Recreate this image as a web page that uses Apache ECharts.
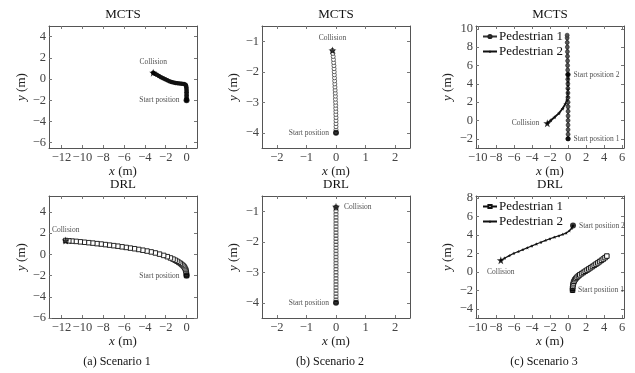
<!DOCTYPE html>
<html>
<head>
<meta charset="utf-8">
<script src="https://cdn.jsdelivr.net/npm/echarts@6/dist/echarts.min.js"></script>
<style>
  html, body { margin: 0; padding: 0; background: #fff; }
  #chart { width: 635px; height: 373px; }
</style>
</head>
<body>
<div id="chart"></div>
<script>
const FONT = 'Liberation Serif'

// trajectories [x, y] in metres
const s1Mcts = [[0,-2.0],[0,-1.85],[0,-1.7],[0,-1.55],[0,-1.4],[0,-1.25],[0,-1.1],[-0.01,-0.95],[-0.02,-0.8],[-0.04,-0.65],[-0.1,-0.53],[-0.25,-0.47],[-0.45,-0.44],[-0.65,-0.42],[-0.85,-0.4],[-1.05,-0.37],[-1.25,-0.33],[-1.45,-0.27],[-1.65,-0.2],[-1.85,-0.12],[-2.05,-0.03],[-2.25,0.07],[-2.45,0.18],[-2.65,0.29],[-2.85,0.4],[-3.05,0.51],[-3.2,0.6]]
const s1Drl = [[0,-2.0],[-0.01,-1.85],[-0.03,-1.7],[-0.06,-1.55],[-0.1,-1.42],[-0.17,-1.28],[-0.25,-1.16],[-0.35,-1.05],[-0.47,-0.95],[-0.6,-0.85],[-0.75,-0.75],[-0.92,-0.65],[-1.1,-0.55],[-1.3,-0.45],[-1.55,-0.34],[-1.85,-0.22],[-2.2,-0.1],[-2.6,0.02],[-3.0,0.13],[-3.4,0.23],[-3.8,0.31],[-4.2,0.39],[-4.6,0.46],[-5.0,0.53],[-5.4,0.59],[-5.8,0.65],[-6.2,0.71],[-6.6,0.77],[-7.0,0.82],[-7.4,0.87],[-7.8,0.92],[-8.2,0.97],[-8.6,1.01],[-9.0,1.06],[-9.4,1.1],[-9.8,1.14],[-10.2,1.18],[-10.6,1.22],[-11.0,1.25],[-11.3,1.27],[-11.6,1.3]]
const s2Mcts = [[0,-4.0],[0,-3.9],[0,-3.8],[0,-3.7],[0,-3.6],[0,-3.5],[-0.005,-3.4],[-0.005,-3.3],[-0.01,-3.2],[-0.01,-3.1],[-0.015,-3.0],[-0.02,-2.9],[-0.02,-2.8],[-0.025,-2.7],[-0.03,-2.6],[-0.035,-2.5],[-0.04,-2.4],[-0.045,-2.3],[-0.05,-2.2],[-0.055,-2.1],[-0.06,-2.0],[-0.065,-1.9],[-0.07,-1.8],[-0.08,-1.7],[-0.085,-1.6],[-0.095,-1.5],[-0.105,-1.4],[-0.12,-1.3]]
const s2Drl = [[0,-4.0],[0,-3.9],[0,-3.8],[0,-3.7],[0,-3.6],[0,-3.5],[0,-3.4],[0,-3.3],[0,-3.2],[0,-3.1],[0,-3.0],[0,-2.9],[0,-2.8],[0,-2.7],[0,-2.6],[0,-2.5],[0,-2.4],[0,-2.3],[0,-2.2],[0,-2.1],[0,-2.0],[0,-1.9],[0,-1.8],[0,-1.7],[0,-1.6],[0,-1.5],[0,-1.4],[0,-1.3],[0,-1.2],[0,-1.1],[0,-1.0],[0,-0.9],[0,-0.85]]
const s3MctsPed1 = [[0,-2],[0,-1.5],[0,-1],[0,-0.5],[0,0],[0,0.5],[0,1],[0,1.5],[0,2],[-0.01,2.5],[-0.01,3],[-0.02,3.5],[-0.02,4],[-0.03,4.5],[-0.03,5],[-0.04,5.5],[-0.05,6],[-0.05,6.5],[-0.06,7],[-0.07,7.5],[-0.08,8],[-0.09,8.5],[-0.1,9],[-0.1,9.3]]
const s3MctsPed2 = [[0,5],[0,4.6],[0,4.2],[0,3.8],[-0.01,3.4],[-0.03,3.0],[-0.06,2.6],[-0.12,2.2],[-0.3,1.8],[-0.6,1.3],[-1.0,0.8],[-1.5,0.35],[-1.9,0.02],[-2.3,-0.3]]
const s3DrlPed1 = [[0.5,-2.0],[0.5,-1.8],[0.52,-1.6],[0.55,-1.4],[0.6,-1.2],[0.67,-1.02],[0.76,-0.86],[0.87,-0.72],[1.0,-0.58],[1.15,-0.45],[1.3,-0.33],[1.5,-0.2],[1.7,-0.07],[1.9,0.06],[2.1,0.18],[2.3,0.31],[2.5,0.44],[2.7,0.57],[2.9,0.7],[3.1,0.83],[3.3,0.96],[3.5,1.1],[3.7,1.24],[3.9,1.38],[4.1,1.53],[4.3,1.7]]
const s3DrlPed2 = [[0.55,5.0],[0.4,4.7],[0.15,4.45],[-0.2,4.2],[-0.6,4.05],[-1.0,3.9],[-1.5,3.75],[-2.0,3.58],[-2.5,3.4],[-3.0,3.2],[-3.5,3.0],[-4.0,2.8],[-4.5,2.6],[-5.0,2.4],[-5.5,2.2],[-6.0,2.0],[-6.5,1.75],[-7.0,1.5],[-7.45,1.25]]

// marked points
const s1MctsStart = [0, -2], s1MctsCollision = [-3.2, 0.6]
const s1DrlStart = [0, -2], s1DrlCollision = [-11.6, 1.3]
const s2MctsStart = [0, -4], s2MctsCollision = [-0.12, -1.3]
const s2DrlStart = [0, -4], s2DrlCollision = [0, -0.85]
const s3MctsStart1 = [0, -2], s3MctsStart2 = [0, 5], s3MctsCollision = [-2.3, -0.3]
const s3DrlStart1 = [0.5, -2], s3DrlStart2 = [0.55, 5], s3DrlCollision = [-7.45, 1.25]

// axes
const s1XTicks = [-12, -10, -8, -6, -4, -2, 0]
const s1YTicks = [-6, -4, -2, 0, 2, 4]
const s2XTicks = [-2, -1, 0, 1, 2]
const s2YTicks = [-4, -3, -2, -1]
const s3XTicks = [-10, -8, -6, -4, -2, 0, 2, 4, 6]
const s3MctsYTicks = [-2, 0, 2, 4, 6, 8, 10]
const s3DrlYTicks = [-4, -2, 0, 2, 4, 6, 8]

const titles = ['MCTS', 'DRL']
const captions = ['(a) Scenario 1', '(b) Scenario 2', '(c) Scenario 3']

const panels = [
  { left: 49, top: 26, x: [-13.2, 1], y: [-6.5, 5], xt: s1XTicks, yt: s1YTicks, yGap: 21 },
  { left: 262, top: 26, x: [-2.5, 2.5], y: [-4.5, -0.5], xt: s2XTicks, yt: s2YTicks, yGap: 22 },
  { left: 476, top: 26, x: [-10.2, 6.2], y: [-3, 10.3], xt: s3XTicks, yt: s3MctsYTicks, yGap: 22 },
  { left: 49, top: 196, x: [-13.2, 1], y: [-6, 5.5], xt: s1XTicks, yt: s1YTicks, yGap: 21 },
  { left: 262, top: 196, x: [-2.5, 2.5], y: [-4.5, -0.5], xt: s2XTicks, yt: s2YTicks, yGap: 22 },
  { left: 476, top: 196, x: [-10.2, 6.2], y: [-5, 8.2], xt: s3XTicks, yt: s3DrlYTicks, yGap: 22 },
]

const STAR = 'path://M0,-10L2.35,-3.24L9.51,-3.09L3.8,1.24L5.88,8.09L0,4L-5.88,8.09L-3.8,1.24L-9.51,-3.09L-2.35,-3.24Z'
const minus = (v) => (v < 0 ? '\u2212' + Math.abs(v) : String(v))
const frame = { onZero: false, lineStyle: { color: '#555', width: 1 } }
const tickStyle = (vals) => ({ show: true, inside: true, length: 3, customValues: vals, lineStyle: { color: '#777' } })
const nameStyle = {
  fontFamily: FONT, fontSize: 13, color: '#222',
  rich: { i: { fontFamily: FONT, fontSize: 13, fontStyle: 'italic', color: '#222' } },
}
const tickLabel = (vals) => ({ show: true, customValues: vals, margin: 3, formatter: minus, fontFamily: FONT, fontSize: 12.5, color: '#444' })

const grid = [], xAxis = [], yAxis = []
panels.forEach((p, g) => {
  grid.push({ left: p.left, top: p.top, width: 148, height: 122 })
  xAxis.push({
    type: 'value', gridIndex: g, position: 'bottom', min: p.x[0], max: p.x[1],
    axisLine: frame, axisTick: tickStyle(p.xt), axisLabel: tickLabel(p.xt), splitLine: { show: false },
    name: '{i|x} (m)', nameLocation: 'middle', nameGap: 17, nameTextStyle: nameStyle,
  })
  xAxis.push({
    type: 'value', gridIndex: g, position: 'top', min: p.x[0], max: p.x[1],
    axisLine: frame, axisTick: tickStyle(p.xt), axisLabel: { show: false }, splitLine: { show: false },
  })
  yAxis.push({
    type: 'value', gridIndex: g, position: 'left', min: p.y[0], max: p.y[1],
    axisLine: frame, axisTick: tickStyle(p.yt), axisLabel: tickLabel(p.yt), splitLine: { show: false },
    name: '{i|y} (m)', nameLocation: 'middle', nameGap: p.yGap, nameTextStyle: nameStyle,
  })
  yAxis.push({
    type: 'value', gridIndex: g, position: 'right', min: p.y[0], max: p.y[1],
    axisLine: frame, axisTick: tickStyle(p.yt), axisLabel: { show: false }, splitLine: { show: false },
  })
})

function track(name, g, data, opts) {
  return Object.assign({
    name, type: 'line', xAxisIndex: g * 2, yAxisIndex: g * 2, data,
    symbol: 'circle', symbolSize: 4, showSymbol: true, z: 3,
    lineStyle: { color: '#111', width: 1 },
    itemStyle: { color: '#111' },
  }, opts)
}

function mark(g, pt, symbol, size, text, position, distance) {
  return {
    type: 'scatter', xAxisIndex: g * 2, yAxisIndex: g * 2, z: 5,
    data: [pt], symbol, symbolSize: size, itemStyle: { color: '#000' },
    label: { show: true, formatter: text, position, distance: distance, fontFamily: FONT, fontSize: 7.5, color: '#222' },
  }
}

const series = [
  // scenario 1
  track('s1m', 0, s1Mcts, { symbolSize: 4.5, lineStyle: { color: '#111', width: 2 } }),
  mark(0, s1MctsStart, 'circle', 6, 'Start position', 'left', 4),
  mark(0, s1MctsCollision, STAR, 8, 'Collision', 'top', 3),
  track('s1d', 3, s1Drl, { symbol: 'rect', symbolSize: 4.5, itemStyle: { color: '#fff', borderColor: '#111', borderWidth: 0.9 } }),
  mark(3, s1DrlStart, 'circle', 6, 'Start position', 'left', 4),
  mark(3, s1DrlCollision, STAR, 8, 'Collision', 'top', 3),
  // scenario 2
  track('s2m', 1, s2Mcts, { symbolSize: 4, lineStyle: { color: '#777', width: 0.8 }, itemStyle: { color: '#fff', borderColor: '#444', borderWidth: 0.8 } }),
  mark(1, s2MctsStart, 'circle', 6, 'Start position', 'left', 4),
  mark(1, s2MctsCollision, STAR, 8, 'Collision', 'top', 4),
  track('s2d', 4, s2Drl, { symbol: 'rect', symbolSize: [4, 2.6], lineStyle: { color: '#777', width: 0.8 }, itemStyle: { color: '#fff', borderColor: '#333', borderWidth: 0.7 } }),
  mark(4, s2DrlStart, 'circle', 6, 'Start position', 'left', 4),
  mark(4, s2DrlCollision, STAR, 8, 'Collision', 'right', 4),
  // scenario 3
  track('MCTS Pedestrian 1', 2, s3MctsPed1, { symbolSize: 4, lineStyle: { color: '#333', width: 2 }, itemStyle: { color: '#555', borderColor: '#222', borderWidth: 0.6 } }),
  track('MCTS Pedestrian 2', 2, s3MctsPed2, { symbol: STAR, symbolSize: 4, lineStyle: { color: '#111', width: 1.8 } }),
  mark(2, s3MctsStart1, 'circle', 5, 'Start position 1', 'right', 3),
  mark(2, s3MctsStart2, 'circle', 5, 'Start position 2', 'right', 3),
  mark(2, s3MctsCollision, STAR, 8, 'Collision', 'left', 4),
  track('DRL Pedestrian 1', 5, s3DrlPed1, { symbol: 'rect', symbolSize: 4.5, lineStyle: { color: '#111', width: 1.5 }, itemStyle: { color: '#fff', borderColor: '#111', borderWidth: 1 } }),
  track('DRL Pedestrian 2', 5, s3DrlPed2, { symbol: STAR, symbolSize: 3.5, lineStyle: { color: '#111', width: 1.2 } }),
  mark(5, s3DrlStart1, 'circle', 5, 'Start position 1', 'right', 3),
  mark(5, s3DrlStart2, 'circle', 6, 'Start position 2', 'right', 3),
  mark(5, s3DrlCollision, STAR, 8, 'Collision', 'bottom', 4),
]

const legendBase = {
  orient: 'vertical', left: 482, padding: 0, itemGap: 2, itemWidth: 14, itemHeight: 4,
  textStyle: { fontFamily: FONT, fontSize: 13, color: '#111', padding: [0, 0, 0, -3] },
  formatter: (n) => n.replace(/^\w+ /, ''),
  selectedMode: false,
}
const legend = [
  Object.assign({ top: 30, data: ['MCTS Pedestrian 1', 'MCTS Pedestrian 2'] }, legendBase),
  Object.assign({ top: 200, data: ['DRL Pedestrian 1', 'DRL Pedestrian 2'] }, legendBase),
]

const graphic = []
panels.forEach((p, g) => {
  graphic.push({
    type: 'text', x: p.left + 74, y: p.top - 11,
    style: { text: titles[g < 3 ? 0 : 1], align: 'center', verticalAlign: 'middle', fontFamily: FONT, fontSize: 13, fill: '#111' },
  })
})
captions.forEach((c, i) => {
  graphic.push({
    type: 'text', x: panels[i].left + 68, y: 362,
    style: { text: c, align: 'center', verticalAlign: 'middle', fontFamily: FONT, fontSize: 12, fill: '#111' },
  })
})

const chart = echarts.init(document.getElementById('chart'))
chart.setOption({ animation: false, grid, xAxis, yAxis, series, legend, graphic })
</script>
</body>
</html>
